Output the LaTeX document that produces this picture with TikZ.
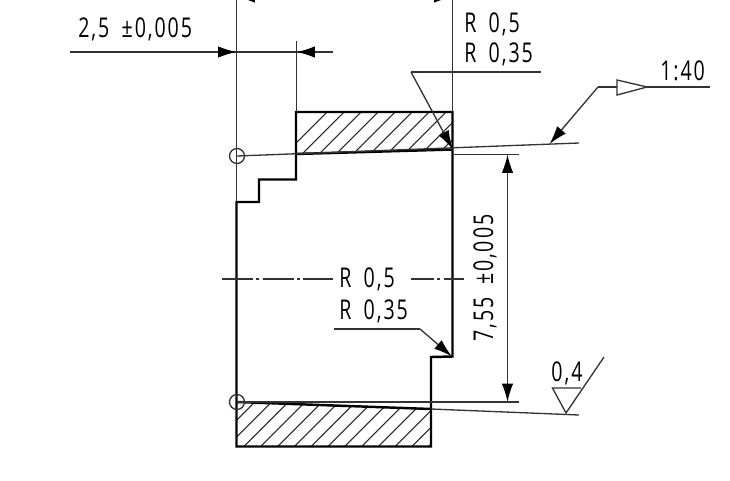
\documentclass[tikz,border=0pt]{standalone}
\usepackage{fontspec}
\setmainfont[LetterSpace=7,FakeStretch=.72]{Open Sans}
\usetikzlibrary{positioning,arrows.meta}
\tikzset{
thinl/.style={line width=.75pt, color=black!80},
thickl/.style={line width=1.4pt, color=black},
hatch/.style={line width=.6pt, color=black!85},
tip/.style={-{Latex[length=10.5pt,width=6.5pt,black]}},
dimtext/.style={inner sep=0pt, font=\fontsize{15.5}{15.5}\selectfont},
chain/.style={thinl, dash pattern=on 17.6pt off 1.9pt on 1.7pt off 1.9pt}
}
\newcommand{\wgap}{\hspace{.45em}}
\begin{document}
\begin{tikzpicture}[x=.02cm, y=-.02cm]
\useasboundingbox (0,0) rectangle (730,480);
\clip (0,0) rectangle (730,480);
% hatching
\begin{scope}
\clip (296,112) -- (452.5,112) -- (452.5,149.5) -- (296,154) -- cycle;
\foreach \k in {0,...,14}{
\draw[hatch] ({439+17*\k-100},100) -- ({439+17*\k-200},200);
}
\end{scope}
\begin{scope}
\clip (237,402) -- (431,409) -- (431,446.5) -- (237,446.5) -- cycle;
\foreach \k in {0,...,16}{
\draw[hatch] ({640+16.8*\k-380},380) -- ({640+16.8*\k-460},460);
}
\end{scope}
% part outline
\draw[thickl, line join=miter] (236.5,202) -- (259,202) -- (259,179.5) -- (296,179.5) -- (296,112) -- (452.5,112) -- (452.5,356.5) -- (431,357) -- (431,446.5) -- (236.5,446.5) -- cycle;
\draw[thickl] (296,154) -- (452.5,149.5);
\draw[thickl] (237,402) -- (431,409);
% extension lines
\draw[thinl] (236.5,-5) -- (236.5,202);
\draw[thinl] (452.5,-5) -- (452.5,112);
\draw[thinl] (296.5,41) -- (296.5,112);
\draw[thinl] (237,156) -- (579,143);
\draw[thinl] (237,402) -- (519,402);
\draw[thinl] (431,409) -- (579,415);
\draw[thinl] (452,154.5) -- (519,154.5);
\draw[thinl] (237,156) circle (7.5);
\draw[thinl] (237,402) circle (7.5);
% centre line
\draw[chain] (222,279) -- (333,279);
\draw[chain, dash phase=4.5pt] (411,279) -- (464,279);
% dimensions
\draw[thinl] (70,52) -- (333,52);
\draw[thinl, tip] (200,52) -- (236.5,52);
\draw[thinl, tip] (330,52) -- (296.5,52);
\draw[thinl, tip] (300,-3) -- (236.5,-3);
\draw[thinl, tip] (400,-3) -- (452.5,-3);
\draw[thinl, tip] (507.5,280) -- (507.5,154.5);
\draw[thinl, tip] (507.5,280) -- (507.5,402);
% leaders
\draw[thinl] (541,72) -- (411,72);
\draw[thinl, tip] (411,72) -- (452.5,149);
\draw[thinl] (334,329) -- (420,329);
\draw[thinl, tip] (420,329) -- (452,356.5);
\draw[thinl] (710,87) -- (598,87);
\draw[thinl, tip] (598,87) -- (549.5,144);
\draw[thinl, fill=white, line join=miter] (617,80) -- (647,87) -- (617,95) -- cycle;
% finish symbol
\draw[thinl, line join=miter] (604,357) -- (566,413) -- (552.5,388) -- (581,388);
% labels
\node[dimtext, anchor=west] (width) at (78,29) {2,5\wgap ±0,005};
\node[dimtext, anchor=west] (topouter) at (464,24) {R\wgap 0,5};
\node[dimtext, anchor=west] (topinner) at (464,54) {R\wgap 0,35};
\node[dimtext, anchor=west] (taper) at (660,71) {1:40};
\node[dimtext, anchor=west] (midouter) at (339,279) {R\wgap 0,5};
\node[dimtext, anchor=west] (midinner) at (339,311) {R\wgap 0,35};
\node[dimtext, rotate=90] (length) at (485,278) {7,55\wgap ±0,005};
\node[dimtext] (finish) at (567,373) {0,4};
\end{tikzpicture}
\end{document}
